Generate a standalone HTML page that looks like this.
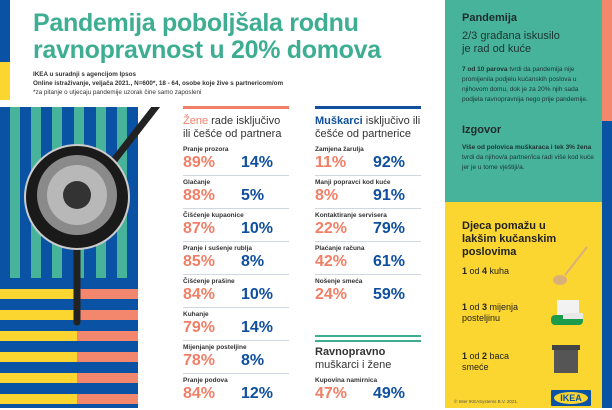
<!DOCTYPE html>
<html><head><meta charset="utf-8"><style>
*{margin:0;padding:0;box-sizing:border-box}
body{width:612px;height:408px;overflow:hidden;background:#fff;font-family:"Liberation Sans","DejaVu Sans",sans-serif;position:relative;color:#222}
.a{position:absolute}
.t{color:#3eae93;font-weight:bold;font-size:25px;line-height:27px;letter-spacing:-0.3px}
.lab{font-size:6.5px;font-weight:bold;color:#333}
.o{color:#f07f66;font-size:16px;font-weight:bold}
.b{color:#0f4f9e;font-size:16px;font-weight:bold}
.hr{height:1px;background:#cfd8e0}
</style></head><body>
<div class="a" style="left:0;top:0;width:10px;height:62px;background:#0a53a4"></div>
<div class="a" style="left:0;top:62px;width:10px;height:38px;background:#fbd631"></div>
<div class="a t" style="left:33px;top:10px">Pandemija poboljšala rodnu<br>ravnopravnost u 20% domova</div>
<div class="a" style="left:33px;top:70px;font-size:6.3px;line-height:9px;font-weight:bold;color:#333">IKEA u suradnji s agencijom Ipsos<br>Online istraživanje, veljača 2021., N=600*, 18 - 64, osobe koje žive s partnericom/om<br><span style="font-weight:normal">*za pitanje o utjecaju pandemije uzorak čine samo zaposleni</span></div>
<svg class="a" style="left:0;top:107px" width="160" height="301">
<rect x="0" y="0" width="138" height="301" fill="#0a53a4"/>
<g fill="#46b39a">
<rect x="10" y="0" width="10" height="171"/><rect x="31" y="0" width="10" height="171"/><rect x="52" y="0" width="10" height="171"/><rect x="74" y="0" width="10" height="171"/><rect x="96" y="0" width="10" height="171"/><rect x="117" y="0" width="10" height="171"/>
</g>
<g>
<rect x="0" y="182" width="77" height="10" fill="#fbd631"/><rect x="77" y="182" width="61" height="10" fill="#f2876e"/>
<rect x="0" y="203" width="77" height="10" fill="#fbd631"/><rect x="77" y="203" width="61" height="10" fill="#f2876e"/>
<rect x="0" y="224" width="77" height="10" fill="#fbd631"/><rect x="77" y="224" width="61" height="10" fill="#f2876e"/>
<rect x="0" y="245" width="77" height="10" fill="#fbd631"/><rect x="77" y="245" width="61" height="10" fill="#f2876e"/>
<rect x="0" y="266" width="77" height="10" fill="#fbd631"/><rect x="77" y="266" width="61" height="10" fill="#f2876e"/>
<rect x="0" y="287" width="77" height="10" fill="#fbd631"/><rect x="77" y="287" width="61" height="10" fill="#f2876e"/>
</g>
<line x1="105" y1="65" x2="158" y2="-3" stroke="#222" stroke-width="7" stroke-linecap="round"/>
<line x1="77" y1="130" x2="77" y2="215" stroke="#222" stroke-width="7" stroke-linecap="round"/>
<circle cx="77" cy="90" r="52" fill="#1a1a1a" stroke="#ccc" stroke-width="2"/>
<circle cx="77" cy="88" r="40" fill="#8a8a8a"/>
<circle cx="77" cy="88" r="30" fill="#b8b8b8"/>
<circle cx="77" cy="88" r="14" fill="#333"/>
</svg>
<!-- column 1 -->
<div class="a" style="left:183px;top:106px;width:106px;height:3px;background:#f07f66"></div>
<div class="a" style="left:183px;top:115px;font-size:11px;line-height:13px;color:#333"><span style="color:#f07f66">Žene</span> rade isključivo<br>ili češće od partnera</div>
<div class="a" style="left:183px;top:146px;width:106px">
<div style="height:33px;position:relative"><div class="lab">Pranje prozora</div><span class="o a" style="top:8px">89%</span><span class="b a" style="left:58px;top:8px">14%</span><div class="hr a" style="top:29px;width:106px"></div></div>
<div style="height:33px;position:relative"><div class="lab">Glačanje</div><span class="o a" style="top:8px">88%</span><span class="b a" style="left:58px;top:8px">5%</span><div class="hr a" style="top:29px;width:106px"></div></div>
<div style="height:33px;position:relative"><div class="lab">Čišćenje kupaonice</div><span class="o a" style="top:8px">87%</span><span class="b a" style="left:58px;top:8px">10%</span><div class="hr a" style="top:29px;width:106px"></div></div>
<div style="height:33px;position:relative"><div class="lab">Pranje i sušenje rublja</div><span class="o a" style="top:8px">85%</span><span class="b a" style="left:58px;top:8px">8%</span><div class="hr a" style="top:29px;width:106px"></div></div>
<div style="height:33px;position:relative"><div class="lab">Čišćenje prašine</div><span class="o a" style="top:8px">84%</span><span class="b a" style="left:58px;top:8px">10%</span><div class="hr a" style="top:29px;width:106px"></div></div>
<div style="height:33px;position:relative"><div class="lab">Kuhanje</div><span class="o a" style="top:8px">79%</span><span class="b a" style="left:58px;top:8px">14%</span><div class="hr a" style="top:29px;width:106px"></div></div>
<div style="height:33px;position:relative"><div class="lab">Mijenjanje posteljine</div><span class="o a" style="top:8px">78%</span><span class="b a" style="left:58px;top:8px">8%</span><div class="hr a" style="top:29px;width:106px"></div></div>
<div style="height:33px;position:relative"><div class="lab">Pranje podova</div><span class="o a" style="top:8px">84%</span><span class="b a" style="left:58px;top:8px">12%</span></div>
</div>
<!-- column 2 -->
<div class="a" style="left:315px;top:106px;width:106px;height:3px;background:#0f4f9e"></div>
<div class="a" style="left:315px;top:115px;font-size:11px;line-height:13px;color:#333"><b style="color:#0f4f9e">Muškarci</b> isključivo ili<br>češće od partnerice</div>
<div class="a" style="left:315px;top:146px;width:106px">
<div style="height:33px;position:relative"><div class="lab">Zamjena žarulja</div><span class="o a" style="top:8px">11%</span><span class="b a" style="left:58px;top:8px">92%</span><div class="hr a" style="top:29px;width:106px"></div></div>
<div style="height:33px;position:relative"><div class="lab">Manji popravci kod kuće</div><span class="o a" style="top:8px">8%</span><span class="b a" style="left:58px;top:8px">91%</span><div class="hr a" style="top:29px;width:106px"></div></div>
<div style="height:33px;position:relative"><div class="lab">Kontaktiranje servisera</div><span class="o a" style="top:8px">22%</span><span class="b a" style="left:58px;top:8px">79%</span><div class="hr a" style="top:29px;width:106px"></div></div>
<div style="height:33px;position:relative"><div class="lab">Plaćanje računa</div><span class="o a" style="top:8px">42%</span><span class="b a" style="left:58px;top:8px">61%</span><div class="hr a" style="top:29px;width:106px"></div></div>
<div style="height:33px;position:relative"><div class="lab">Nošenje smeća</div><span class="o a" style="top:8px">24%</span><span class="b a" style="left:58px;top:8px">59%</span></div>
</div>
<div class="a" style="left:315px;top:335px;width:106px;height:2px;background:#3eae93"></div>
<div class="a" style="left:315px;top:340px;width:106px;height:2px;background:#3eae93"></div>
<div class="a" style="left:315px;top:346px;font-size:11px;line-height:13px;color:#333"><b>Ravnopravno</b><br>muškarci i žene</div>
<div class="a lab" style="left:315px;top:377px">Kupovina namirnica</div>
<span class="a o" style="left:315px;top:385px">47%</span><span class="a b" style="left:373px;top:385px">49%</span>
<!-- right panel -->
<div class="a" style="left:445px;top:0;width:157px;height:202px;background:#47b39b"></div>
<div class="a" style="left:445px;top:202px;width:157px;height:206px;background:#fbd631"></div>
<div class="a" style="left:602px;top:0;width:10px;height:121px;background:#f2876e"></div>
<div class="a" style="left:602px;top:121px;width:10px;height:287px;background:#0a53a4"></div>
<div class="a" style="left:462px;top:12px;font-size:11px;font-weight:bold;color:#1d2b2b">Pandemija</div>
<div class="a" style="left:462px;top:30px;font-size:11px;line-height:13px;color:#1d3333">2/3 građana iskusilo<br>je rad od kuće</div>
<div class="a" style="left:462px;top:65px;font-size:6.5px;line-height:10px;color:#1d3333;width:135px"><b>7 od 10 parova</b> tvrdi da pandemija nije promijenila podjelu kućanskih poslova u njihovom domu, dok je za 20% njih sada podjela ravnopravnija nego prije pandemije.</div>
<div class="a" style="left:462px;top:124px;font-size:11px;font-weight:bold;color:#1d2b2b">Izgovor</div>
<div class="a" style="left:462px;top:143px;font-size:6.5px;line-height:10px;color:#1d3333;width:135px"><b>Više od polovica muškaraca i tek 3% žena</b> tvrdi da njihov/a partner/ica radi više kod kuće jer je u tome vještiji/a.</div>
<div class="a" style="left:462px;top:220px;font-size:11px;line-height:13px;font-weight:bold;color:#222">Djeca pomažu u<br>lakšim kučanskim<br>poslovima</div>
<div class="a" style="left:462px;top:266px;font-size:9px;color:#222"><b>1</b> od <b>4</b> kuha</div>
<div class="a" style="left:462px;top:302px;font-size:9px;line-height:11px;color:#222"><b>1</b> od <b>3</b> mijenja<br>posteljinu</div>
<div class="a" style="left:462px;top:351px;font-size:9px;line-height:11px;color:#222"><b>1</b> od <b>2</b> baca<br>smeće</div>
<svg class="a" style="left:545px;top:245px" width="50" height="130">
<line x1="42" y1="2" x2="20" y2="30" stroke="#d9b07a" stroke-width="2"/>
<ellipse cx="15" cy="35" rx="7" ry="5" fill="#d9b07a"/>
<rect x="12" y="55" width="22" height="20" fill="#f2f2f2"/>
<rect x="6" y="70" width="32" height="10" rx="4" fill="#1e9a4d"/>
<rect x="18" y="68" width="20" height="6" fill="#e8e8e8"/>
<rect x="9" y="104" width="24" height="24" fill="#555"/>
<rect x="7" y="100" width="28" height="5" fill="#444"/>
</svg>
<div class="a" style="left:454px;top:399px;font-size:4.5px;color:#555">© Inter IKEASystems B.V. 2021.</div>
<div class="a" style="left:551px;top:390px;width:40px;height:16px;background:#0a53a4;border-radius:1px"><div style="margin:2px 3px;height:12px;background:#fbd631;border-radius:50%;color:#0a53a4;font-weight:bold;font-size:9px;text-align:center;line-height:12px">IKEA</div></div>
</body></html>
